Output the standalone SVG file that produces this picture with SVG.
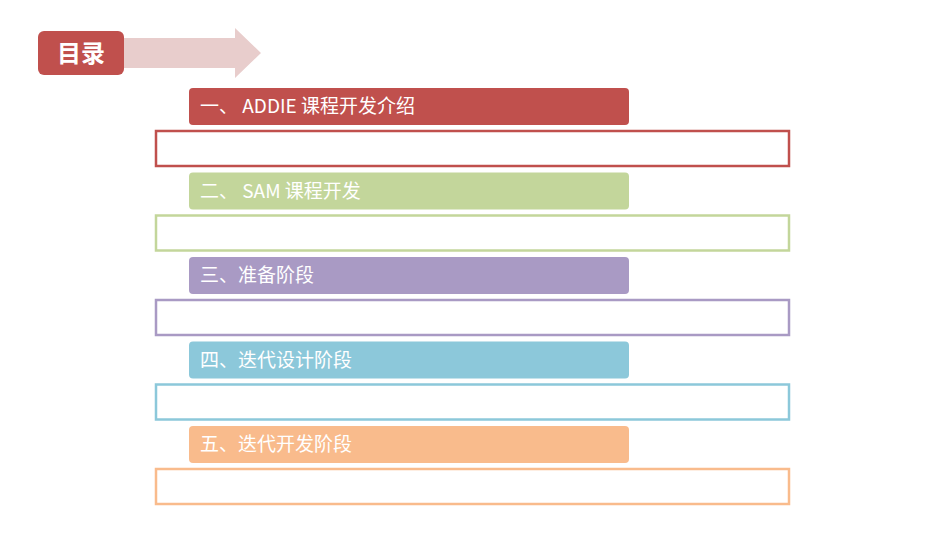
<svg xmlns="http://www.w3.org/2000/svg" width="950" height="535" viewBox="0 0 950 535">
<style>
.t{font-family:"Noto Sans CJK SC","Noto Sans",sans-serif;font-size:19px;fill:#fff}
.b{fill:#fff;stroke-width:2.5}
</style>
<rect width="950" height="535" fill="#fff"/>
<g id="title">
<path d="M120 38H235V28L261 53L235 78V68H120Z" fill="#E8CDCC"/>
<rect x="38" y="31" width="86" height="44" rx="6" fill="#C0504D"/>
<text x="81" y="62" class="t" style="font-size:24px;font-weight:bold" text-anchor="middle">目录</text>
</g>
<g id="item1">
<rect x="189" y="88" width="440" height="37" rx="4" fill="#C0504D"/>
<text x="200" y="113" class="t">一、 ADDIE 课程开发介绍</text>
<rect x="156" y="131" width="633" height="35" class="b" stroke="#C0504D"/>
</g>
<g id="item2">
<rect x="189" y="172.5" width="440" height="37" rx="4" fill="#C3D69B"/>
<text x="200" y="197.5" class="t">二、 SAM 课程开发</text>
<rect x="156" y="215.5" width="633" height="35" class="b" stroke="#C3D69B"/>
</g>
<g id="item3">
<rect x="189" y="257" width="440" height="37" rx="4" fill="#A99AC4"/>
<text x="200" y="282" class="t">三、准备阶段</text>
<rect x="156" y="300" width="633" height="35" class="b" stroke="#A99AC4"/>
</g>
<g id="item4">
<rect x="189" y="341.5" width="440" height="37" rx="4" fill="#8CC8DA"/>
<text x="200" y="366.5" class="t">四、迭代设计阶段</text>
<rect x="156" y="384.5" width="633" height="35" class="b" stroke="#8CC8DA"/>
</g>
<g id="item5">
<rect x="189" y="426" width="440" height="37" rx="4" fill="#F9BB8C"/>
<text x="200" y="451" class="t">五、迭代开发阶段</text>
<rect x="156" y="469" width="633" height="35" class="b" stroke="#F9BB8C"/>
</g>
<g id="connectors"/>
</svg>
